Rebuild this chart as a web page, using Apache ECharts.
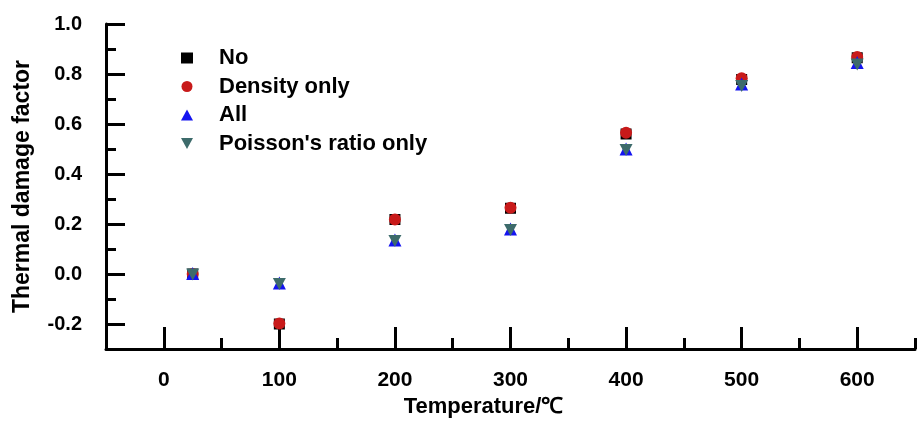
<!DOCTYPE html>
<html>
<head>
<meta charset="utf-8">
<script src="https://cdn.jsdelivr.net/npm/echarts@6/dist/echarts.min.js"></script>
<style>html,body{margin:0;padding:0;background:#fff}#c{width:919px;height:423px}</style>
</head>
<body>
<div id="c"></div>
<script>
const temperatures = [25, 100, 200, 300, 400, 500, 600];
const noValues      = [0.000, -0.200, 0.218, 0.263, 0.560, 0.778, 0.865];
const densityOnly   = [0.000, -0.198, 0.218, 0.265, 0.565, 0.783, 0.868];
const allValues     = [0.002, -0.036, 0.136, 0.180, 0.500, 0.760, 0.846];
const poissonOnly   = [-0.002, -0.040, 0.132, 0.176, 0.496, 0.752, 0.838];
const xMajorTicks = [0, 100, 200, 300, 400, 500, 600];
const xMinorTicks = [50, 150, 250, 350, 450, 550, 650];
const yMajorTicks = [-0.2, 0, 0.2, 0.4, 0.6, 0.8, 1.0];
const yMinorTicks = [-0.1, 0.1, 0.3, 0.5, 0.7, 0.9];

const FONT = '"Liberation Sans", Arial, sans-serif';
const pair = vals => temperatures.map((t, i) => [t, vals[i]]);
const INV_TRI = 'path://M0,0L10,0L5,9Z';

const chart = echarts.init(document.getElementById('c'));
const axisLine = {show: true, onZero: false, lineStyle: {color: '#000', width: 3}};
chart.setOption({
  animation: false,
  grid: {left: 106, right: 4, top: 24, bottom: 70},
  legend: {
    orient: 'vertical', left: 181, top: 47, padding: 0,
    itemWidth: 12, itemHeight: 11, itemGap: 6.5,
    textStyle: {fontFamily: FONT, fontWeight: 'bold', fontSize: 22, color: '#000', padding: [0, 0, 0, 21], lineHeight: 22},
    data: ['No', 'Density only', 'All', "Poisson's ratio only"]
  },
  xAxis: [{
    type: 'value', min: -50, max: 650, position: 'bottom',
    axisLine: axisLine, splitLine: {show: false},
    axisTick: {inside: true, length: 22, customValues: xMajorTicks, lineStyle: {width: 3, color: '#000'}},
    axisLabel: {customValues: xMajorTicks, margin: 21, fontFamily: FONT, fontWeight: 'bold', fontSize: 21, color: '#000'},
    name: 'Temperature/℃', nameLocation: 'middle', nameGap: 47,
    nameTextStyle: {fontFamily: FONT, fontWeight: 'bold', fontSize: 22, color: '#000', padding: [0, 54, 0, 0]}
  }, {
    type: 'value', min: -50, max: 650, position: 'bottom',
    axisLine: {show: false, onZero: false}, splitLine: {show: false}, axisLabel: {show: false},
    axisTick: {inside: true, length: 11, customValues: xMinorTicks, lineStyle: {width: 3, color: '#000'}}
  }],
  yAxis: [{
    type: 'value', min: -0.3, max: 1.0, position: 'left',
    axisLine: axisLine, splitLine: {show: false},
    axisTick: {inside: true, length: 19, customValues: yMajorTicks, lineStyle: {width: 3, color: '#000'}},
    axisLabel: {customValues: yMajorTicks, margin: 24, formatter: v => v.toFixed(1), fontFamily: FONT, fontWeight: 'bold', fontSize: 20, color: '#000'},
    name: 'Thermal damage factor', nameLocation: 'middle', nameGap: 72,
    nameTextStyle: {fontFamily: FONT, fontWeight: 'bold', fontSize: 23, color: '#000'}
  }, {
    type: 'value', min: -0.3, max: 1.0, position: 'left',
    axisLine: {show: false, onZero: false}, splitLine: {show: false}, axisLabel: {show: false},
    axisTick: {inside: true, length: 10, customValues: yMinorTicks, lineStyle: {width: 3, color: '#000'}}
  }],
  series: [
    {name: 'No', type: 'scatter', symbol: 'rect', symbolSize: 11, data: pair(noValues), itemStyle: {color: '#000', opacity: 1}},
    {name: 'Density only', type: 'scatter', symbol: 'circle', symbolSize: 12, data: pair(densityOnly), itemStyle: {color: '#c81a1a', opacity: 1}},
    {name: 'All', type: 'scatter', symbol: 'triangle', symbolSize: 13, data: pair(allValues), itemStyle: {color: '#1414f0', opacity: 1}},
    {name: "Poisson's ratio only", type: 'scatter', symbol: INV_TRI, symbolSize: [13, 12], data: pair(poissonOnly), itemStyle: {color: '#3d6b6b', opacity: 1}}
  ]
});
</script>
</body>
</html>
